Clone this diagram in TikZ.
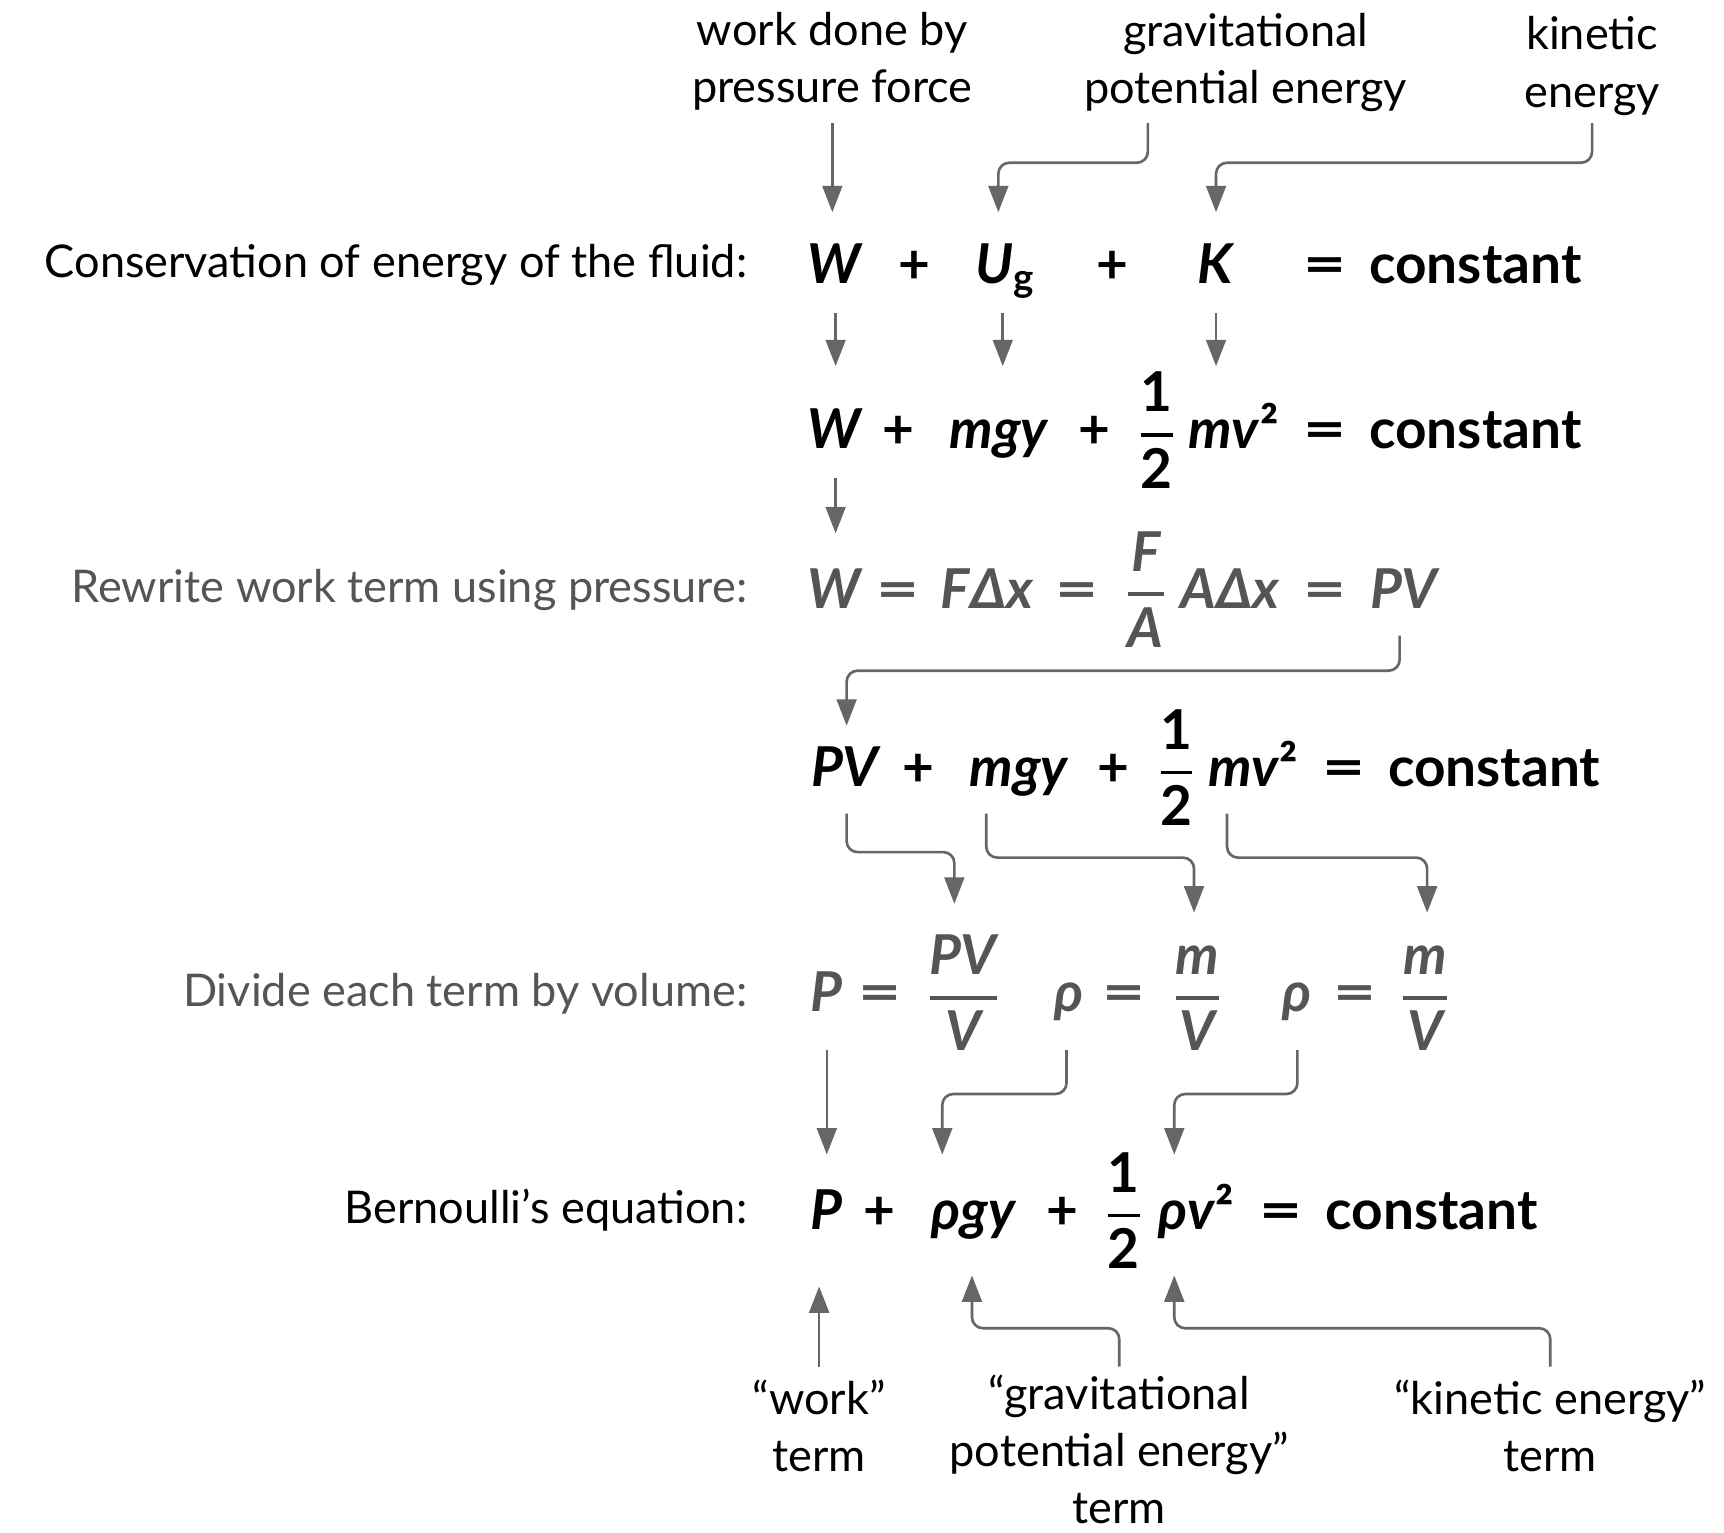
\documentclass[tikz,border=0pt]{standalone}
\usepackage{fontspec}
\usepackage{amsmath}
\usepackage{graphicx}
\setmainfont{Lato}
\usetikzlibrary{arrows.meta}

\definecolor{arrowgray}{RGB}{102,102,102}
\definecolor{textgray}{RGB}{85,85,85}

\newcommand{\lblfont}{\fontsize{20.5}{26}\selectfont}
\newcommand{\eqfont}{\fontsize{25}{28}\selectfont\bfseries}
\newcommand{\half}{$\genfrac{}{}{1.7pt}{0}{\text{1}}{\text{2}}$}
\newcommand{\fracit}[2]{$\genfrac{}{}{1.7pt}{0}{\text{\itshape #1}}{\text{\itshape #2}}$}
\newcommand{\eqsign}{\scalebox{1.35}[1]{=}}

\begin{document}
\begin{tikzpicture}[
    x=0.5pt, y=-0.5pt,
    lbl/.style={font=\lblfont, align=center, inner sep=0pt},
    side/.style={font=\lblfont, anchor=base east, inner sep=0pt},
    eq/.style={font=\eqfont, anchor=base, inner sep=0pt},
    eqw/.style={eq, anchor=base west},
    faint/.style={text=textgray},
    arr/.style={draw=arrowgray, line width=1.2pt, rounded corners=5pt,
        -{Triangle[length=12pt,width=9pt]}}
  ]
  \useasboundingbox (0,0) rectangle (1568,1394);

  % Energy labels
  \node[lbl] (wd) at (757,56) {work done by\\pressure force};
  \node[lbl] (gp) at (1133,57) {gravitational\\potential energy};
  \node[lbl] (ke) at (1448,60) {kinetic\\energy};

  % Conservation of energy
  \node[side] (s1) at (680,252) {Conservation of energy of the fluid:};
  \node[eq] (w1) at (760,258) {\textit{W}};
  \node[eq] (r1a) at (832,258) {+};
  \node[eq] (u1) at (914,258) {\textit{U}\textsubscript{g}};
  \node[eq] (r1b) at (1012,258) {+};
  \node[eq] (k1) at (1106,258) {\textit{K}};
  \node[eq] (q1) at (1205,258) {\eqsign};
  \node[eqw] (c1) at (1245,258) {constant};

  % Substituted energies
  \node[eq] (w2) at (760,408) {\textit{W}};
  \node[eq] (r2a) at (817,408) {+};
  \node[eq] (g2) at (909,408) {\textit{mgy}};
  \node[eq] (r2b) at (995,408) {+};
  \node[eq] (h2) at (1052,408) {\half};
  \node[eq] (k2) at (1122,408) {\textit{mv}²};
  \node[eq] (q2) at (1205,408) {\eqsign};
  \node[eqw] (c2) at (1245,408) {constant};

  % Work term
  \node[side, faint] (s3) at (680,548) {Rewrite work term using pressure:};
  \node[eq, faint] (w3) at (760,553) {\textit{W}};
  \node[eq, faint] (q3a) at (817,553) {\eqsign};
  \node[eq, faint] (fx3) at (898,553) {\textit{FΔx}};
  \node[eq, faint] (q3b) at (980,553) {\eqsign};
  \node[eq, faint] (fa3) at (1042,553) {\fracit{F}{A}};
  \node[eq, faint] (ax3) at (1119,553) {\textit{AΔx}};
  \node[eq, faint] (q3c) at (1205,553) {\eqsign};
  \node[eq, faint] (pv3) at (1278,553) {\textit{PV}};

  % Pressure form
  \node[eq] (pv4) at (770,715) {\textit{PV}};
  \node[eq] (r4a) at (835,715) {+};
  \node[eq] (g4) at (927,715) {\textit{mgy}};
  \node[eq] (r4b) at (1013,715) {+};
  \node[eq] (h4) at (1070,715) {\half};
  \node[eq] (k4) at (1140,715) {\textit{mv}²};
  \node[eq] (q4) at (1222,715) {\eqsign};
  \node[eqw] (c4) at (1262,715) {constant};

  % Divide by volume
  \node[side, faint] (s5) at (680,915) {Divide each term by volume:};
  \node[eq, faint] (p5) at (752,920) {\textit{P}};
  \node[eq, faint] (e5a) at (800,920) {\eqsign};
  \node[eq, faint] (f5a) at (876,920) {\fracit{PV}{V}};
  \node[eq, faint] (rho5a) at (972,920) {\textit{ρ}};
  \node[eq, faint] (e5b) at (1022,920) {\eqsign};
  \node[eq, faint] (f5b) at (1089,920) {\fracit{m}{V}};
  \node[eq, faint] (rho5b) at (1180,920) {\textit{ρ}};
  \node[eq, faint] (e5c) at (1232,920) {\eqsign};
  \node[eq, faint] (f5c) at (1296,920) {\fracit{m}{V}};

  % Bernoulli
  \node[side] (s6) at (680,1113) {Bernoulli’s equation:};
  \node[eq] (p6) at (752,1118) {\textit{P}};
  \node[eq] (r6a) at (800,1118) {+};
  \node[eq] (rg6) at (886,1118) {\textit{ρgy}};
  \node[eq] (r6b) at (966,1118) {+};
  \node[eq] (h6) at (1022,1118) {\half};
  \node[eq] (k6) at (1088,1118) {\textit{ρv}²};
  \node[eq] (q6) at (1165,1118) {\eqsign};
  \node[eqw] (c6) at (1205,1118) {constant};

  % Term names
  \node[lbl] (wt) at (745,1297) {“work”\\term};
  \node[lbl] (gt) at (1018,1318) {“gravitational\\potential energy”\\term};
  \node[lbl] (kt) at (1410,1297) {“kinetic energy”\\term};

  % Arrows
  \draw[arr] (wd |- 0,112) -- (wd |- 0,193);
  \draw[arr] (1044,112) |- (908,148) -- (908,193);
  \draw[arr] (ke |- 0,112) |- (1106,148) -- (1106,193);
  \draw[arr] (w1 |- 0,285) -- (w1 |- 0,333);
  \draw[arr] (912,285) -- (912,333);
  \draw[arr] (k1 |- 0,285) -- (k1 |- 0,333);
  \draw[arr] (w2 |- 0,435) -- (w2 |- 0,485);
  \draw[arr] (1273,578) |- (770,610) -- (pv4 |- 0,660);
  \draw[arr] (pv4 |- 0,740) |- (868,775) -- (868,822);
  \draw[arr] (897,740) |- (1086,780) -- (1086,830);
  \draw[arr] (1116,740) |- (1298,780) -- (1298,830);
  \draw[arr] (p5 |- 0,955) -- (p5 |- 0,1050);
  \draw[arr] (970,955) |- (857,995) -- (857,1050);
  \draw[arr] (rho5b |- 0,955) |- (1068,995) -- (1068,1050);
  \draw[arr] (wt |- 0,1243) -- (wt |- 0,1170);
  \draw[arr] (gt |- 0,1243) |- (884,1208) -- (884,1160);
  \draw[arr] (kt |- 0,1243) |- (1068,1208) -- (1068,1160);
\end{tikzpicture}
\end{document}
